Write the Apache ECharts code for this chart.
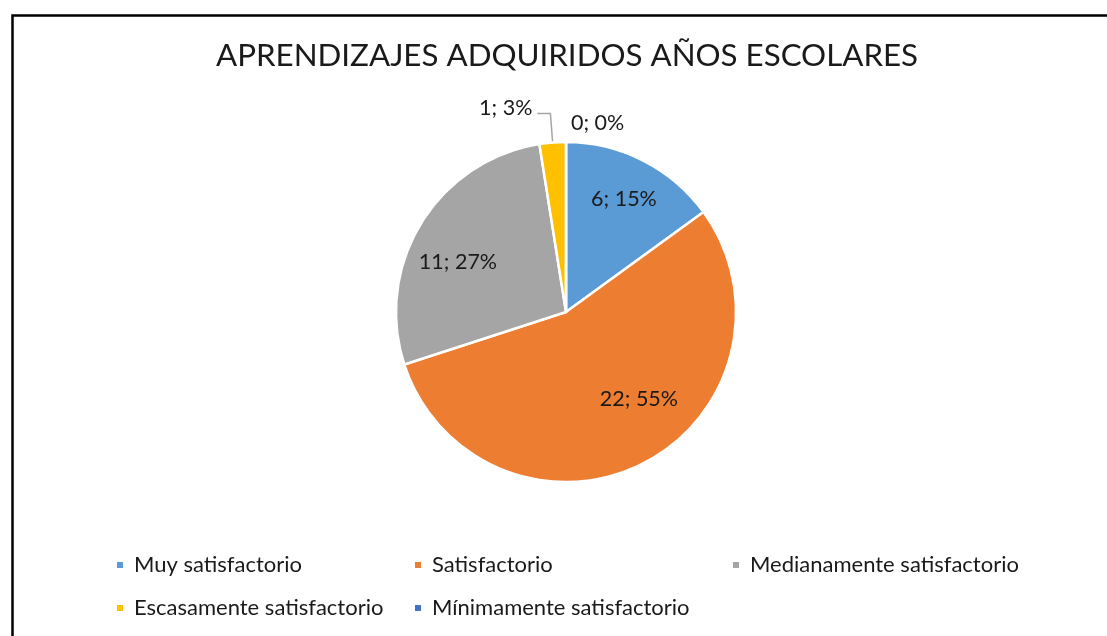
<!DOCTYPE html>
<html>
<head>
<meta charset="utf-8">
<script src="https://cdn.jsdelivr.net/npm/echarts@6/dist/echarts.min.js"></script>
<style>
html,body{margin:0;padding:0;background:#fff;}
#chart{width:1107px;height:636px;}
</style>
</head>
<body>
<div id="chart"></div>
<script>
const titleText = 'APRENDIZAJES ADQUIRIDOS AÑOS ESCOLARES';
const categories = ['Muy satisfactorio', 'Satisfactorio', 'Medianamente satisfactorio', 'Escasamente satisfactorio', 'Mínimamente satisfactorio'];
const values = [6, 22, 11, 1, 0];
const pctLabels = ['15%', '55%', '27%', '3%', '0%'];
const colors = ['#5B9BD5', '#ED7D31', '#A5A5A5', '#FFC000', '#4472C4'];

const FONT = 'Lato, "Open Sans", sans-serif';

// label placement per slice (style only)
const labelStyles = [
  { position: 'inside', offset: [18, -35] },
  { position: 'inside', offset: [33, 9] },
  { position: 'inside', offset: [-33, -4] },
  { position: 'outside', labelLine: { show: true, length: 29, length2: 13 }, offset: [0, -6] },
  { position: 'outside', labelLine: { show: false, length: 8, length2: 0 }, offset: [0, -11] }
];

const data = categories.map((name, i) => {
  const ls = labelStyles[i];
  const item = {
    name: name,
    value: values[i],
    itemStyle: { color: colors[i] },
    label: { position: ls.position, formatter: values[i] + '; ' + pctLabels[i] }
  };
  if (ls.offset) item.label.offset = ls.offset;
  if (ls.labelLine) item.labelLine = ls.labelLine;
  return item;
});

const legendBase = {
  orient: 'vertical',
  icon: 'rect',
  itemWidth: 8,
  itemHeight: 8,
  itemGap: 21,
  selectedMode: false,
  textStyle: { fontFamily: FONT, fontSize: 22, color: '#1a1a1a', lineHeight: 22, padding: [0, 0, 0, 5] }
};

const chart = echarts.init(document.getElementById('chart'), null, { renderer: 'canvas' });
chart.setOption({
  animation: false,
  backgroundColor: '#ffffff',
  color: colors,
  title: {
    text: titleText,
    left: 211,
    top: 35,
    textStyle: { fontFamily: FONT, fontSize: 31.3, fontWeight: 'normal', color: '#1a1a1a' }
  },
  legend: [
    Object.assign({}, legendBase, { left: 110, top: 549, data: [categories[0], categories[3]] }),
    Object.assign({}, legendBase, { left: 408, top: 549, data: [categories[1], categories[4]] }),
    Object.assign({}, legendBase, { left: 726, top: 549, data: [categories[2]] })
  ],
  graphic: [{
    type: 'rect',
    left: 10, top: 13,
    shape: { x: 0, y: 0, width: 1110, height: 640 },
    style: { fill: 'none', stroke: '#000', lineWidth: 2.5 },
    silent: true
  }],
  series: [{
    type: 'pie',
    center: [566, 312],
    radius: [0, 170],
    startAngle: 90,
    clockwise: true,
    avoidLabelOverlap: false,
    itemStyle: { borderColor: '#ffffff', borderWidth: 2.5 },
    label: { fontFamily: FONT, fontSize: 21.5, color: '#1a1a1a' },
    labelLine: { lineStyle: { color: '#a6a6a6', width: 1.5 }, smooth: false },
    emphasis: { disabled: true },
    data: data
  }]
});
</script>
</body>
</html>
